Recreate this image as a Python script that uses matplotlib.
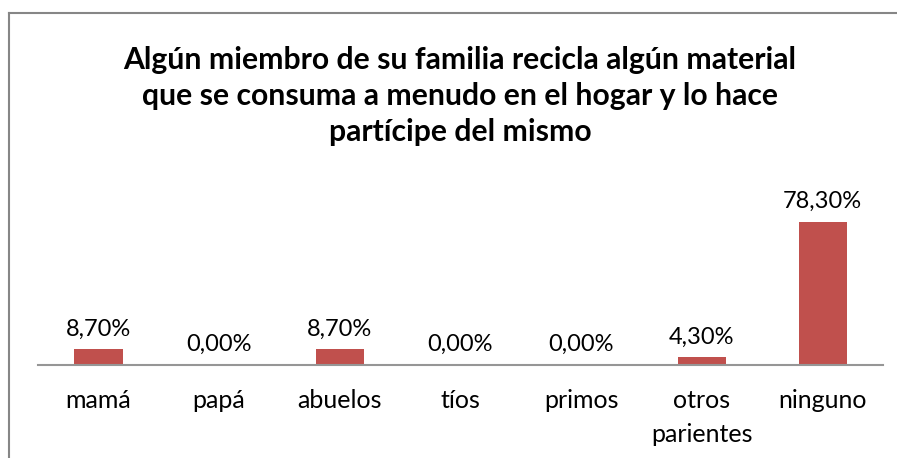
import matplotlib
matplotlib.use("Agg")
import matplotlib.pyplot as plt
from matplotlib.lines import Line2D

categories = ["mamá", "papá", "abuelos", "tíos", "primos", "otros\nparientes", "ninguno"]
values = [8.70, 0.00, 8.70, 0.00, 0.00, 4.30, 78.30]
value_labels = ["8,70%", "0,00%", "8,70%", "0,00%", "0,00%", "4,30%", "78,30%"]
title = ("Algún miembro de su familia recicla algún material\n"
         "que se consuma a menudo en el hogar y lo hace\n"
         "partícipe del mismo")

plt.rcParams['font.family'] = ['Lato', 'DejaVu Sans']

W, H = 897, 458
fig = plt.figure(figsize=(W / 100, H / 100), dpi=100)
ax = fig.add_axes([38 / W, 93 / H, (883 - 38) / W, 182.6 / H])

x = list(range(len(categories)))
bars = ax.bar(x, values, width=0.4, color="#C0504D")
ax.set_xlim(-0.5, len(categories) - 0.5)
ax.set_ylim(0, 100)
ax.bar_label(bars, labels=value_labels, padding=7, fontsize=17, color="black")

ax.set_xticks(x)
ax.set_xticklabels(categories, fontsize=18, linespacing=1.6)
ax.tick_params(axis="x", length=0, pad=17)
ax.set_yticks([])
for s in ["top", "right", "left"]:
    ax.spines[s].set_visible(False)
ax.spines["bottom"].set_color("#969696")
ax.spines["bottom"].set_linewidth(1.5)

fig.text(460 / W, 1 - 96 / H, title, ha="center", va="center", fontsize=21.7,
         fontweight="bold", linespacing=1.36)

# chart border (top and left visible in crop)
fig.add_artist(Line2D([9 / W, 1], [1 - 12.5 / H, 1 - 12.5 / H], transform=fig.transFigure,
                      color="#868686", lw=1.5))
fig.add_artist(Line2D([9 / W, 9 / W], [0, 1 - 12.5 / H], transform=fig.transFigure,
                      color="#868686", lw=1.5))

fig.savefig("out.png", dpi=100)
